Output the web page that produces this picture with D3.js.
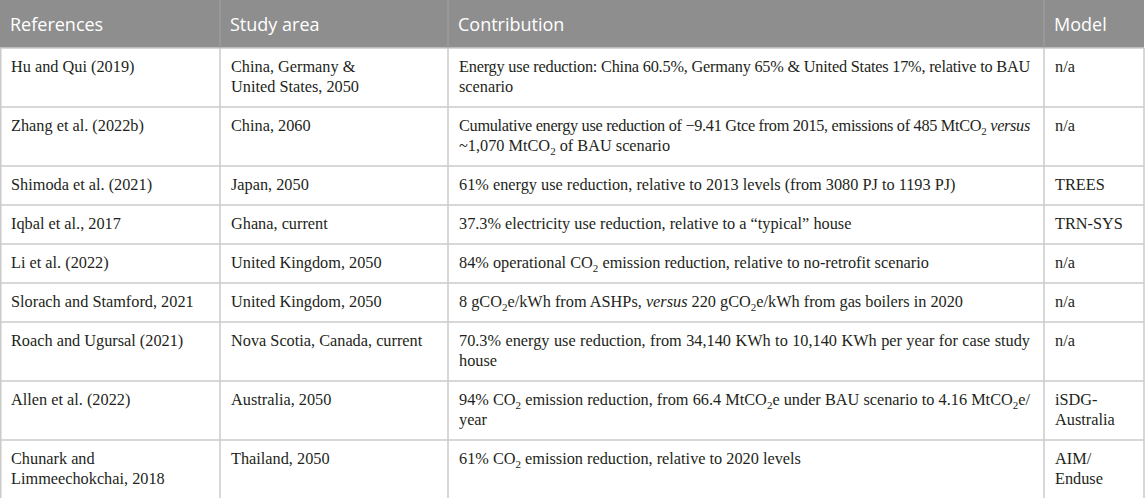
<!DOCTYPE html>
<html>
<head>
<meta charset="utf-8">
<script src="https://d3js.org/d3.v7.min.js"></script>
<style>
  html, body { margin: 0; padding: 0; background: #fff; }
  svg { display: block; }
</style>
</head>
<body>
<div id="table"></div>
<script>
// Table content, row by row. "\n" = line break as in the original,
// "_2" = subscript 2, *text* = italic.
const headers = ["References", "Study area", "Contribution", "Model"];

const references = [
    "Hu and Qui (2019)",
    "Zhang et al. (2022b)",
    "Shimoda et al. (2021)",
    "Iqbal et al., 2017",
    "Li et al. (2022)",
    "Slorach and Stamford, 2021",
    "Roach and Ugursal (2021)",
    "Allen et al. (2022)",
    "Chunark and\nLimmeechokchai, 2018"
];

const studyAreas = [
    "China, Germany &\nUnited States, 2050",
    "China, 2060",
    "Japan, 2050",
    "Ghana, current",
    "United Kingdom, 2050",
    "United Kingdom, 2050",
    "Nova Scotia, Canada, current",
    "Australia, 2050",
    "Thailand, 2050"
];

const contributions = [
    "Energy use reduction: China 60.5%, Germany 65% & United States 17%, relative to BAU\nscenario",
    "Cumulative energy use reduction of \u22129.41 Gtce from 2015, emissions of 485 MtCO_2 *versus*\n~1,070 MtCO_2 of BAU scenario",
    "61% energy use reduction, relative to 2013 levels (from 3080 PJ to 1193 PJ)",
    "37.3% electricity use reduction, relative to a \u201ctypical\u201d house",
    "84% operational CO_2 emission reduction, relative to no-retrofit scenario",
    "8 gCO_2e/kWh from ASHPs, *versus* 220 gCO_2e/kWh from gas boilers in 2020",
    "70.3% energy use reduction, from 34,140 KWh to 10,140 KWh per year for case study\nhouse",
    "94% CO_2 emission reduction, from 66.4 MtCO_2e under BAU scenario to 4.16 MtCO_2e/\nyear",
    "61% CO_2 emission reduction, relative to 2020 levels"
];

const models = [
    "n/a", "n/a", "TREES", "TRN-SYS", "n/a", "n/a", "n/a",
    "iSDG-\nAustralia", "AIM/\nEnduse"
];

// Layout
const width = 1145;
const height = 498;
const colEdges = [0, 220, 448, 1044, 1144];   // column boundaries in px
const headerHeight = 48;
const lineHeight = 20;
const rowPad = 19;          // total vertical padding per row
const cellPad = 11;
const justifyCol = 2;       // contribution column is justified

const headerColor = "#8e8e8e";
const gridColor = "#cbcbcb";
const textColor = "#231f20";
const bodyFont = "'Liberation Serif', 'Times New Roman', serif";
const headFont = "'Open Sans', 'Noto Sans', sans-serif";
const bodySize = 16.3;

const columns = [references, studyAreas, contributions, models];
const rows = references.map((_, i) => columns.map(c => c[i]));
const rowLines = rows.map(r => d3.max(r, cell => cell.split("\n").length));

// Row y positions from line counts
const rowTops = [headerHeight];
rowLines.forEach(n => rowTops.push(rowTops[rowTops.length - 1] + rowPad + n * lineHeight));

const x = d3.scaleOrdinal().domain(d3.range(headers.length)).range(colEdges.slice(0, -1));
const colWidth = i => colEdges[i + 1] - colEdges[i];

const svg = d3.select("#table")
    .append("svg")
    .attr("width", width)
    .attr("height", height);

// Header band
svg.append("rect")
    .attr("x", colEdges[0])
    .attr("y", 0)
    .attr("width", colEdges[colEdges.length - 1] - colEdges[0])
    .attr("height", headerHeight)
    .attr("fill", headerColor);

svg.selectAll(".head")
    .data(headers)
    .enter()
    .append("text")
    .attr("class", "head")
    .attr("x", (d, i) => x(i) + cellPad - 1)
    .attr("y", 31)
    .style("font-family", headFont)
    .style("font-size", "18px")
    .style("fill", "#fff")
    .text(d => d);

// Parse one line of cell text into styled runs
function parseRuns(line) {
    const runs = [];
    let italic = false;
    let buf = "";
    for (let k = 0; k < line.length; k++) {
        const ch = line[k];
        if (ch === "*") {
            if (buf) runs.push({ t: buf, italic, sub: false });
            buf = "";
            italic = !italic;
        } else if (ch === "_" && line[k + 1] === "2") {
            if (buf) runs.push({ t: buf, italic, sub: false });
            buf = "";
            runs.push({ t: "2", italic, sub: true });
            k++;
        } else {
            buf += ch;
        }
    }
    if (buf) runs.push({ t: buf, italic, sub: false });
    return runs;
}

// Body cells
rows.forEach((row, r) => {
    row.forEach((cell, c) => {
        const lines = cell.split("\n");
        lines.forEach((line, li) => {
            const t = svg.append("text")
                .attr("x", x(c) + cellPad)
                .attr("y", rowTops[r] + 24 + li * lineHeight)
                .style("font-family", bodyFont)
                .style("font-size", bodySize + "px")
                .style("fill", textColor);
            let shifted = false;
            const runs = parseRuns(line);
            runs.forEach(run => {
                const ts = t.append("tspan")
                    .text(run.t)
                    .style("font-style", run.italic ? "italic" : "normal");
                if (run.sub) {
                    ts.attr("dy", 4).style("font-size", "11px");
                    shifted = true;
                } else if (shifted) {
                    ts.attr("dy", -4);
                    shifted = false;
                }
            });
            // justify wrapped lines in the contribution column
            if (c === justifyCol && li < lines.length - 1) {
                const target = colWidth(c) - 2 * cellPad - 3;
                const len = t.node().getComputedTextLength();
                const spaces = (line.match(/ /g) || []).length;
                const chars = runs.reduce((s, run) => s + run.t.length, 0);
                if (len > target) {
                    t.style("letter-spacing", ((target - len) / chars) + "px");
                } else if (spaces) {
                    t.style("word-spacing", ((target - len) / spaces) + "px");
                }
            }
        });
    });
});

// Grid lines
const bottom = rowTops[rowTops.length - 1];
svg.selectAll(".hline")
    .data(rowTops)
    .enter()
    .append("line")
    .attr("class", "hline")
    .attr("x1", colEdges[0])
    .attr("x2", colEdges[colEdges.length - 1])
    .attr("y1", d => d)
    .attr("y2", d => d)
    .style("stroke", gridColor)
    .style("stroke-width", 1.5);

svg.selectAll(".vline")
    .data(colEdges)
    .enter()
    .append("line")
    .attr("class", "vline")
    .attr("x1", d => d + (d === 0 ? 0.75 : 0))
    .attr("x2", d => d + (d === 0 ? 0.75 : 0))
    .attr("y1", headerHeight)
    .attr("y2", bottom)
    .style("stroke", gridColor)
    .style("stroke-width", 1.5);

// thin divider lines inside the header band
svg.selectAll(".hdiv")
    .data(colEdges.slice(1, -1))
    .enter()
    .append("line")
    .attr("class", "hdiv")
    .attr("x1", d => d)
    .attr("x2", d => d)
    .attr("y1", 0)
    .attr("y2", headerHeight)
    .style("stroke", "#a3a3a3")
    .style("stroke-width", 1);
</script>
</body>
</html>
